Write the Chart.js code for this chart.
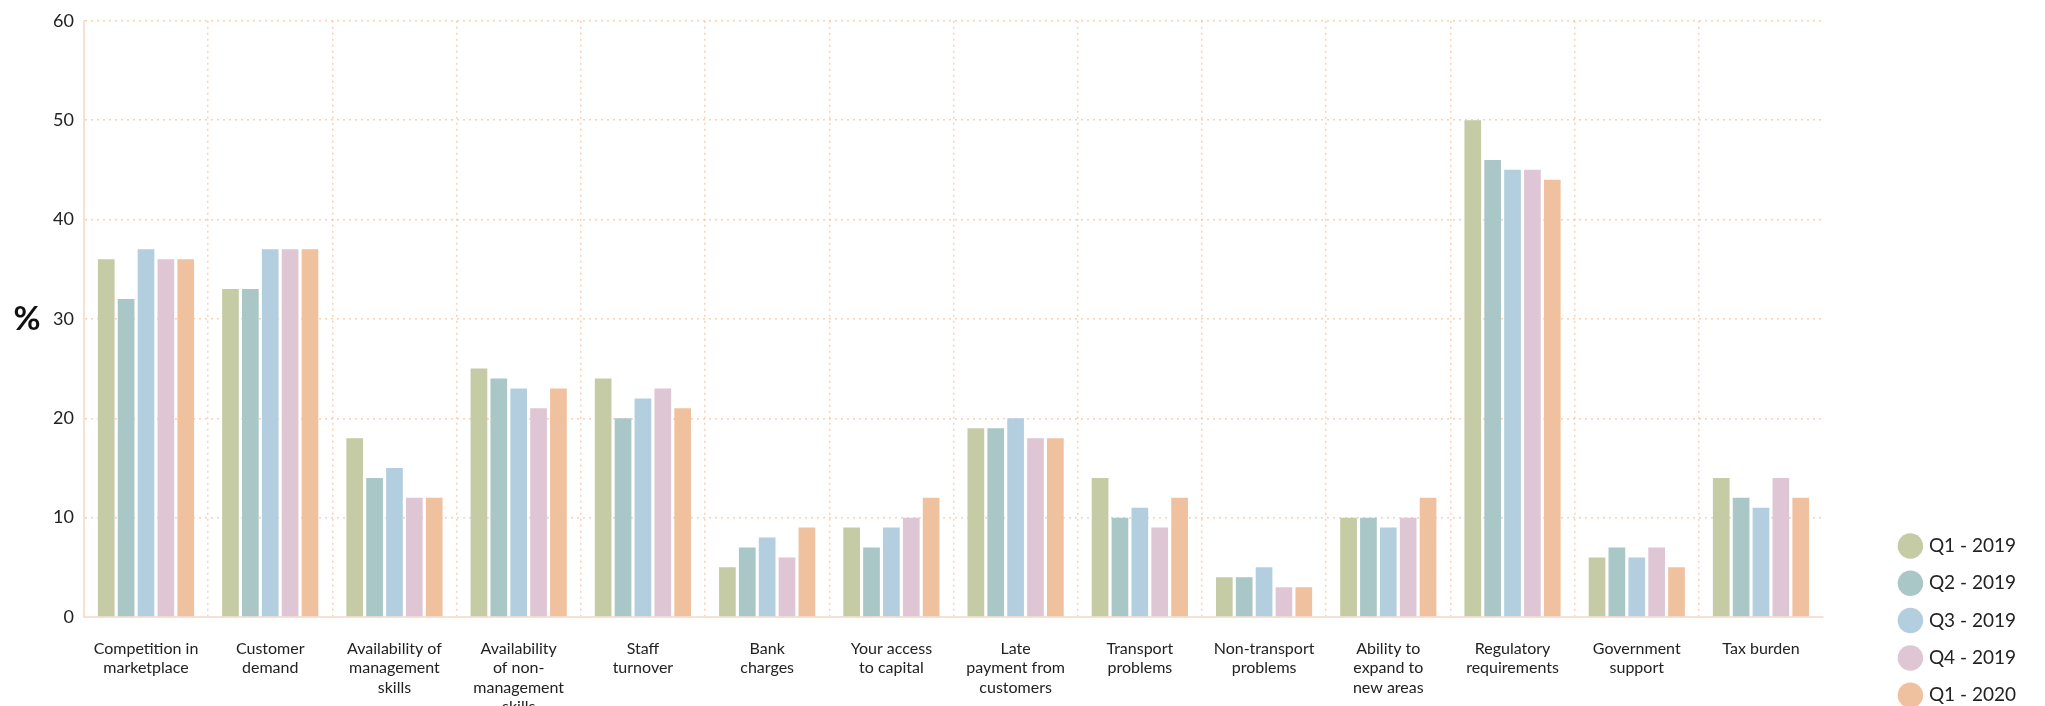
<!DOCTYPE html>
<html>
<head>
<meta charset="utf-8">
<script src="https://cdn.jsdelivr.net/npm/chart.js@4"></script>
<style>
  html, body { margin: 0; padding: 0; background: #fff; overflow: hidden; }
  #wrap { position: relative; width: 2045px; height: 730px; }
</style>
</head>
<body>
<div id="wrap"><canvas id="barriers"></canvas></div>
<script>
// categories (multi-line labels as arrays)
const categories = [
    ['Competition in', 'marketplace'],
    ['Customer', 'demand'],
    ['Availability of', 'management', 'skills'],
    ['Availability', 'of non-', 'management', 'skills'],
    ['Staff', 'turnover'],
    ['Bank', 'charges'],
    ['Your access', 'to capital'],
    ['Late', 'payment from', 'customers'],
    ['Transport', 'problems'],
    ['Non-transport', 'problems'],
    ['Ability to', 'expand to', 'new areas'],
    ['Regulatory', 'requirements'],
    ['Government', 'support'],
    ['Tax burden']
];

const seriesNames = ['Q1 - 2019', 'Q2 - 2019', 'Q3 - 2019', 'Q4 - 2019', 'Q1 - 2020'];

const q1_2019 = [36, 33, 18, 25, 24, 5, 9, 19, 14, 4, 10, 50, 6, 14];
const q2_2019 = [32, 33, 14, 24, 20, 7, 7, 19, 10, 4, 10, 46, 7, 12];
const q3_2019 = [37, 37, 15, 23, 22, 8, 9, 20, 11, 5, 9, 45, 6, 11];
const q4_2019 = [36, 37, 12, 21, 23, 6, 10, 18, 9, 3, 10, 45, 7, 14];
const q1_2020 = [36, 37, 12, 23, 21, 9, 12, 18, 12, 3, 12, 44, 5, 12];

const yTicks = [0, 10, 20, 30, 40, 50, 60];

const seriesColors = ['#c5cba4', '#a9c7c6', '#b3cfdf', '#dec6d4', '#f0c19e'];
const gridColor = 'rgba(244, 178, 135, 0.6)';
const axisColor = '#f9e1d1';
const fontFamily = 'Lato, "Open Sans", sans-serif';

// draws the unrotated "%" axis title and nudges the legend away from the plot
const extras = {
    id: 'extras',
    afterLayout(chart) {
        const lg = chart.legend;
        if (lg) { lg.left += 60; lg.right += 60; }
    },
    afterDraw(chart) {
        const y = chart.scales.y;
        const ctx = chart.ctx;
        ctx.save();
        ctx.font = 'bold 33px ' + fontFamily;
        ctx.fillStyle = '#111';
        ctx.textAlign = 'center';
        ctx.textBaseline = 'middle';
        ctx.fillText('%', 27, (y.top + y.bottom) / 2);
        ctx.restore();
    }
};

const allSeries = [q1_2019, q2_2019, q3_2019, q4_2019, q1_2020];

const ctx = document.getElementById('barriers').getContext('2d');
new Chart(ctx, {
    type: 'bar',
    data: {
        labels: categories,
        datasets: allSeries.map((vals, i) => ({
            label: seriesNames[i],
            data: vals,
            backgroundColor: seriesColors[i],
            borderWidth: 0,
            categoryPercentage: 0.8,
            barPercentage: 0.84
        }))
    },
    options: {
        responsive: true,
        maintainAspectRatio: false,
        animation: false,
        layout: {
            padding: { top: 11, left: 43, right: 79, bottom: 7 }
        },
        plugins: {
            legend: {
                position: 'right',
                align: 'end',
                labels: {
                    usePointStyle: true,
                    pointStyle: 'circle',
                    boxWidth: 18,
                    boxHeight: 18,
                    padding: 18.3,
                    color: '#222',
                    font: { family: fontFamily, size: 19 }
                }
            },
            tooltip: { enabled: false }
        },
        scales: {
            x: {
                afterFit: s => { s.height = 106; },
                grid: {
                    color: c => c.type === 'tick' ? gridColor : 'transparent',
                    lineWidth: 1.5,
                    drawTicks: false,
                    tickLength: 0
                },
                border: { color: axisColor, width: 2, dash: [2, 4] },
                ticks: {
                    color: '#222',
                    padding: 22,
                    maxRotation: 0,
                    autoSkip: false,
                    font: { family: fontFamily, size: 16, lineHeight: 1.22 }
                }
            },
            y: {
                min: yTicks[0],
                max: yTicks[yTicks.length - 1],
                afterBuildTicks: scale => { scale.ticks = yTicks.map(v => ({ value: v })); },
                grid: {
                    color: gridColor,
                    lineWidth: 1.5,
                    drawTicks: false,
                    tickLength: 0
                },
                border: { color: axisColor, width: 2, dash: [2, 4] },
                ticks: {
                    color: '#222',
                    padding: 10,
                    font: { family: fontFamily, size: 18 }
                }
            }
        }
    },
    plugins: [extras]
});
</script>
</body>
</html>
